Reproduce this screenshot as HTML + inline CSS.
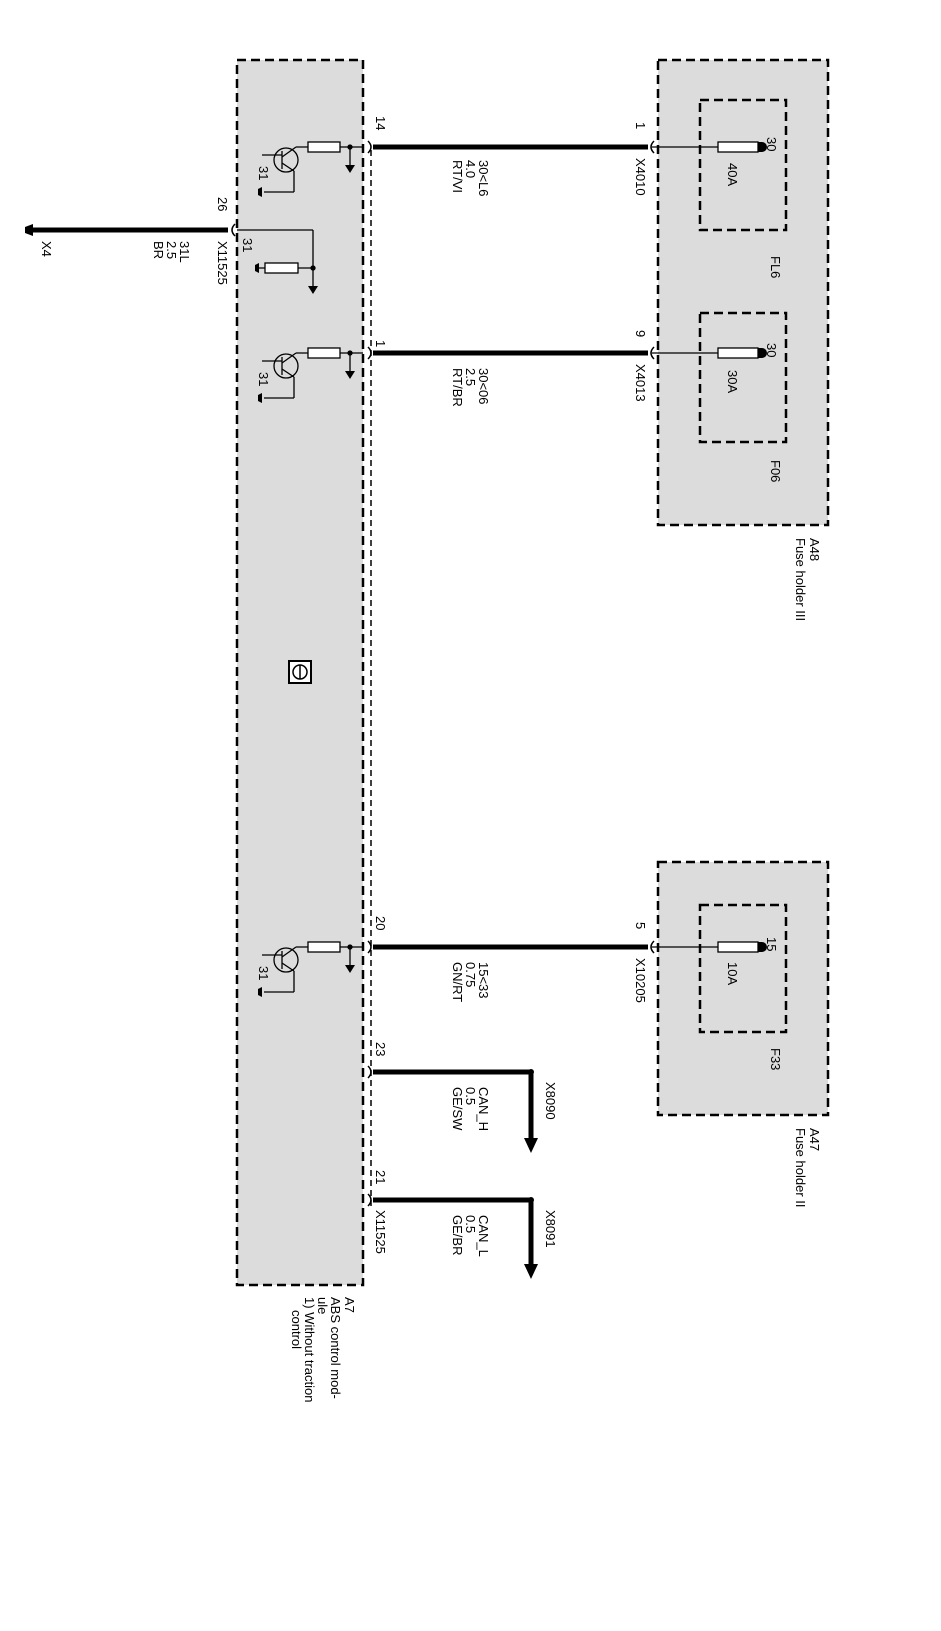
<!DOCTYPE html>
<html><head><meta charset="utf-8"><style>
html,body{margin:0;padding:0;background:#fff}
svg{display:block}
text{font-family:"Liberation Sans",sans-serif;font-size:13px;fill:#000}
</style></head><body>
<svg width="941" height="1631" viewBox="0 0 941 1631" xmlns="http://www.w3.org/2000/svg">
<g fill="#dcdcdc" stroke="#000" stroke-width="2.5" stroke-dasharray="9,5">
<rect x="237" y="60" width="126" height="1225"/>
<rect x="658" y="60" width="170" height="465"/>
<rect x="658" y="862" width="170" height="253"/>
<rect x="700" y="100" width="86" height="130" fill="none"/>
<rect x="700" y="313" width="86" height="129" fill="none"/>
<rect x="700" y="905" width="86" height="127" fill="none"/>
</g>
<line x1="371" y1="150" x2="371" y2="1210" stroke="#000" stroke-width="1.5" stroke-dasharray="6,4"/>
<g stroke="#000" stroke-width="5">
<line x1="373" y1="147" x2="648" y2="147"/>
<line x1="373" y1="353" x2="648" y2="353"/>
<line x1="373" y1="947" x2="648" y2="947"/>
<line x1="373" y1="1072" x2="530" y2="1072"/>
<line x1="373" y1="1200" x2="530" y2="1200"/>
<line x1="32" y1="230" x2="228" y2="230"/>
<line x1="531" y1="1072" x2="531" y2="1140"/>
<line x1="531" y1="1200" x2="531" y2="1266"/>
</g>
<polygon points="524,1138 538,1138 531,1153" fill="#000"/>
<polygon points="524,1264 538,1264 531,1279" fill="#000"/>
<circle cx="531" cy="1072" r="3" fill="#000"/>
<circle cx="531" cy="1200" r="3" fill="#000"/>
<polygon points="33,224 33,236 25,233 25,227" fill="#000"/>
<g fill="none" stroke="#000" stroke-width="1.5">
<path d="M368,141 Q374,147 368,153"/><path d="M368,347 Q374,353 368,359"/><path d="M368,941 Q374,947 368,953"/>
<path d="M368,1066 Q374,1072 368,1078"/><path d="M368,1194 Q374,1200 368,1206"/>
<path d="M654,141 Q648,147 654,153"/><path d="M654,347 Q648,353 654,359"/><path d="M654,941 Q648,947 654,953"/>
<path d="M235,224 Q229,230 235,236"/>
</g>
<g stroke="#000" stroke-width="1.3" fill="#fff">
<line x1="652" y1="147" x2="718" y2="147"/><rect x="718" y="142" width="40" height="10"/>
<line x1="652" y1="353" x2="718" y2="353"/><rect x="718" y="348" width="40" height="10"/>
<line x1="652" y1="947" x2="718" y2="947"/><rect x="718" y="942" width="40" height="10"/>
</g>
<g fill="#000"><path d="M758,142 h4 a5,5 0 0 1 0,10 h-4z"/><path d="M758,348 h4 a5,5 0 0 1 0,10 h-4z"/><path d="M758,942 h4 a5,5 0 0 1 0,10 h-4z"/></g>
<defs>
<g id="tr" stroke="#000" stroke-width="1.3" fill="none">
<line x1="296" y1="0" x2="363" y2="0"/>
<rect x="308" y="-5" width="32" height="10" fill="#fff"/>
<circle cx="286" cy="13" r="12"/>
<line x1="262" y1="8" x2="282" y2="8"/>
<line x1="282" y1="4" x2="282" y2="22"/>
<line x1="282" y1="10" x2="296" y2="0"/>
<line x1="282" y1="16" x2="294" y2="24"/>
<line x1="294" y1="24" x2="294" y2="45"/>
<line x1="294" y1="45" x2="264" y2="45"/>
<line x1="350" y1="0" x2="350" y2="18"/>
<circle cx="350" cy="0" r="2" fill="#000"/>
<polygon points="345,18 355,18 350,26" fill="#000" stroke="none"/>
<polygon points="262,40 262,50 258,48 258,42" fill="#000" stroke="none"/>
</g>
</defs>
<use href="#tr" transform="translate(0,147)"/>
<use href="#tr" transform="translate(0,353)"/>
<use href="#tr" transform="translate(0,947)"/>
<g stroke="#000" stroke-width="1.3" fill="none">
<line x1="237" y1="230" x2="313" y2="230"/>
<line x1="313" y1="230" x2="313" y2="286"/>
<line x1="259" y1="268" x2="313" y2="268"/>
<rect x="265" y="263" width="33" height="10" fill="#fff"/>
<circle cx="313" cy="268" r="2" fill="#000"/>
</g>
<polygon points="308,286 318,286 313,294" fill="#000"/>
<polygon points="259,263 259,273 255,271 255,265" fill="#000"/>
<rect x="289" y="661" width="22" height="22" fill="#fff" stroke="#000" stroke-width="2"/>
<circle cx="300" cy="672" r="7" fill="none" stroke="#000" stroke-width="1.5"/>
<line x1="300" y1="665" x2="300" y2="679" stroke="#000" stroke-width="1.5"/>
<g>
<text transform="translate(376 116) rotate(90)">14</text>
<text transform="translate(376 340) rotate(90)">1</text>
<text transform="translate(376 916) rotate(90)">20</text>
<text transform="translate(376 1042) rotate(90)">23</text>
<text transform="translate(376 1170) rotate(90)">21</text>
<text transform="translate(376 1210) rotate(90)">X11525</text>
<text transform="translate(479 160) rotate(90)">30&lt;L6</text>
<text transform="translate(466 160) rotate(90)">4.0</text>
<text transform="translate(453 160) rotate(90)">RT/VI</text>
<text transform="translate(479 368) rotate(90)">30&lt;06</text>
<text transform="translate(466 368) rotate(90)">2.5</text>
<text transform="translate(453 368) rotate(90)">RT/BR</text>
<text transform="translate(479 962) rotate(90)">15&lt;33</text>
<text transform="translate(466 962) rotate(90)">0.75</text>
<text transform="translate(453 962) rotate(90)">GN/RT</text>
<text transform="translate(479 1087) rotate(90)">CAN_H</text>
<text transform="translate(466 1087) rotate(90)">0.5</text>
<text transform="translate(453 1087) rotate(90)">GE/SW</text>
<text transform="translate(479 1215) rotate(90)">CAN_L</text>
<text transform="translate(466 1215) rotate(90)">0.5</text>
<text transform="translate(453 1215) rotate(90)">GE/BR</text>
<text transform="translate(546 1082) rotate(90)">X8090</text>
<text transform="translate(546 1210) rotate(90)">X8091</text>
<text transform="translate(636 122) rotate(90)">1</text>
<text transform="translate(636 330) rotate(90)">9</text>
<text transform="translate(636 922) rotate(90)">5</text>
<text transform="translate(636 158) rotate(90)">X4010</text>
<text transform="translate(636 364) rotate(90)">X4013</text>
<text transform="translate(636 958) rotate(90)">X10205</text>
<text transform="translate(767 137) rotate(90)">30</text>
<text transform="translate(767 343) rotate(90)">30</text>
<text transform="translate(767 937) rotate(90)">15</text>
<text transform="translate(728 163) rotate(90)">40A</text>
<text transform="translate(728 370) rotate(90)">30A</text>
<text transform="translate(728 962) rotate(90)">10A</text>
<text transform="translate(771 256) rotate(90)">FL6</text>
<text transform="translate(771 460) rotate(90)">F06</text>
<text transform="translate(771 1048) rotate(90)">F33</text>
<text transform="translate(810 538) rotate(90)">A48</text>
<text transform="translate(796 538) rotate(90)">Fuse holder III</text>
<text transform="translate(810 1128) rotate(90)">A47</text>
<text transform="translate(796 1128) rotate(90)">Fuse holder II</text>
<text transform="translate(218 197) rotate(90)">26</text>
<text transform="translate(218 241) rotate(90)">X11525</text>
<text transform="translate(180 241) rotate(90)">31L</text>
<text transform="translate(167 241) rotate(90)">2.5</text>
<text transform="translate(154 241) rotate(90)">BR</text>
<text transform="translate(42 241) rotate(90)">X4</text>
<text transform="translate(243 238) rotate(90)">31</text>
<text transform="translate(259 166) rotate(90)">31</text>
<text transform="translate(259 372) rotate(90)">31</text>
<text transform="translate(259 966) rotate(90)">31</text>
<text transform="translate(345 1297) rotate(90)">A7</text>
<text transform="translate(331 1297) rotate(90)">ABS control mod-</text>
<text transform="translate(318 1297) rotate(90)">ule</text>
<text transform="translate(305 1297) rotate(90)">1) Without traction</text>
<text transform="translate(292 1310) rotate(90)">control</text>
</g>
</svg>
</body></html>
